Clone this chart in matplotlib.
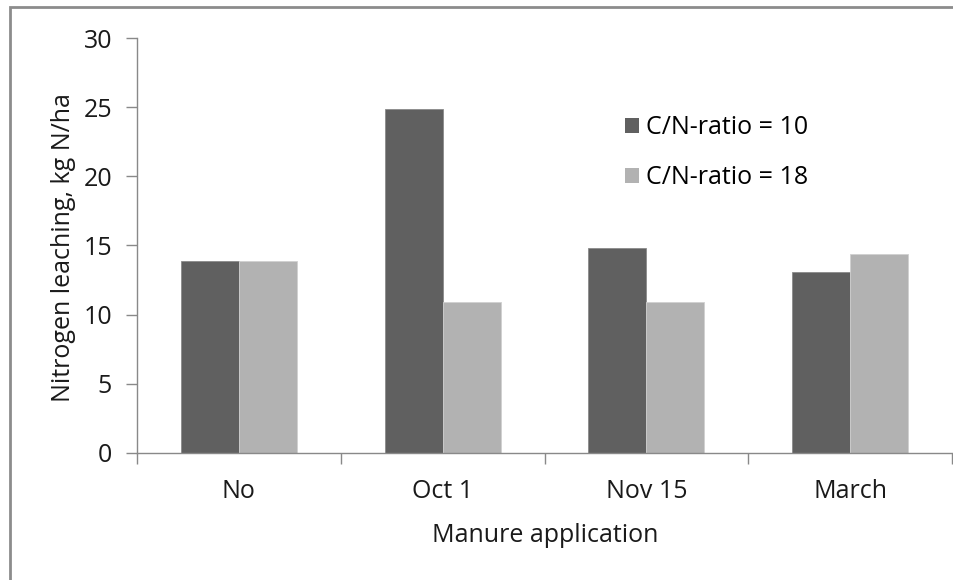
"""Nitrogen leaching by manure application time, two C/N ratios (grouped bars)."""
import matplotlib
matplotlib.use("Agg")
import matplotlib.pyplot as plt
import numpy as np
from matplotlib.patches import Patch, Rectangle

categories = ["No", "Oct 1", "Nov 15", "March"]
series_names = ["C/N-ratio = 10", "C/N-ratio = 18"]
cn10 = [13.9, 24.9, 14.8, 13.1]
cn18 = [13.9, 10.9, 10.9, 14.4]
y_ticks = [0, 5, 10, 15, 20, 25, 30]

DARK, LIGHT = "#606060", "#b2b2b2"
AXIS_GREY = "#898989"
FS = 18

plt.rcParams["font.family"] = ["Open Sans", "DejaVu Sans"]

W, H = 954, 580
fig = plt.figure(figsize=(W / 100, H / 100), dpi=100)
ax = fig.add_axes([137 / W, 1 - 452.7 / H, (952 - 137) / W, (452.7 - 38.3) / H])

x = np.arange(len(categories))
bw = 0.285
ax.bar(x - bw / 2, cn10, bw, color=DARK, edgecolor="#8a8a8a", linewidth=0.6, label=series_names[0])
ax.bar(x + bw / 2, cn18, bw, color=LIGHT, edgecolor="#d0d0d0", linewidth=0.6, label=series_names[1])

ax.set_xlim(-0.5, len(categories) - 0.5)
ax.set_ylim(0, 30)
ax.set_yticks(y_ticks)
ax.set_yticklabels([str(t) for t in y_ticks], fontsize=FS, color="#1a1a1a")
ax.set_xticks(x)
ax.set_xticklabels(categories, fontsize=FS, color="#1a1a1a")
ax.set_xticks(np.arange(len(categories) + 1) - 0.5, minor=True)
ax.tick_params(axis="x", which="major", length=0, pad=19)
ax.tick_params(axis="x", which="minor", length=8, width=1, color=AXIS_GREY, direction="out")
ax.tick_params(axis="y", length=8, width=1, color=AXIS_GREY, direction="out", pad=10)

for s in ("top", "right"):
    ax.spines[s].set_visible(False)
for s in ("left", "bottom"):
    ax.spines[s].set_color(AXIS_GREY)
    ax.spines[s].set_linewidth(1)

fig.text(64 / W, 1 - 248 / H, "Nitrogen leaching, kg N/ha", rotation=90,
         ha="center", va="center", fontsize=FS, color="#1a1a1a")
fig.text(545 / W, 1 - 535 / H, "Manure application", ha="center", va="center",
         fontsize=FS, color="#1a1a1a")

handles = [Patch(facecolor=DARK), Patch(facecolor=LIGHT)]
fig.legend(handles, series_names, loc="center left", bbox_to_anchor=(625 / W, 1 - 153 / H),
           frameon=False, fontsize=FS, handlelength=0.55, handleheight=0.55,
           handletextpad=0.3, labelspacing=1.0, borderpad=0, borderaxespad=0)

# chart-area border (runs off the right/bottom edges like the source)
fig.patches.append(Rectangle((10 / W, -0.05), 1.0, 1 - 7 / H + 0.05, transform=fig.transFigure,
                             fill=False, edgecolor="#8c8c8c", linewidth=2))

fig.savefig("out.png", dpi=100, facecolor="white")
